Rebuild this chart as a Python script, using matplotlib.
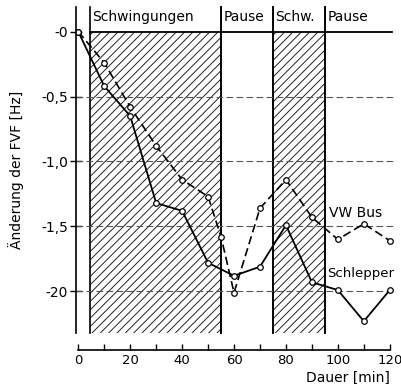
#!/usr/bin/env python3
"""Änderung der FVF over Dauer for VW Bus and Schlepper, with vibration/pause phases."""

import matplotlib
matplotlib.use("Agg")
import matplotlib.pyplot as plt

plt.rcParams["font.family"] = ["DejaVu Sans"]

# data
minutes = [0, 10, 20, 30, 40, 50, 55, 60, 70, 80, 90, 100, 110, 120]
vw_bus = [0.0, -0.24, -0.58, -0.88, -1.14, -1.27, -1.58, -2.01, -1.36, -1.14, -1.43, -1.60, -1.48, -1.61]

schlepper_min = [0, 10, 20, 30, 40, 50, 60, 70, 80, 90, 100, 110, 120]
schlepper = [0.0, -0.42, -0.65, -1.32, -1.38, -1.78, -1.88, -1.81, -1.49, -1.93, -1.99, -2.23, -1.99]

phases = [(4.5, 55, "Schwingungen", True), (55, 75, "Pause", False),
          (75, 95, "Schw.", True), (95, 121, "Pause", False)]

y_ticks = [0, -0.5, -1.0, -1.5, -2.0]
y_ticklabels = ["-0", "-0,5", "-1,0", "-1,5", "-20"]
x_ticks = [0, 20, 40, 60, 80, 100, 120]

FS = 10

fig = plt.figure(figsize=(4.01, 3.84), dpi=100)
ax = fig.add_axes([0.19, 0.133, 0.795, 0.849])
ax.set_xlim(-0.8, 122)
ax.set_ylim(-2.32, 0.19)

plt.rcParams["hatch.linewidth"] = 0.7
for x0, x1, name, shaded in phases:
    if shaded:
        ax.fill_between([x0, x1], -2.32, 0, facecolor="white", edgecolor="#222222",
                        hatch="////", linewidth=0)
    for xb in (x0, x1):
        if xb < 120:
            ax.plot([xb, xb], [-2.32, 0.19], color="black", lw=1.2, clip_on=False)
    ax.text(x0 + 1.0, 0.11, name, fontsize=FS, va="center", ha="left")

ax.plot([4.5, 121], [0, 0], color="black", lw=1.3)
for yv in [-0.5, -1.0, -1.5, -2.0]:
    ax.plot([-0.8, 122], [yv, yv], color="#555555", lw=0.8, ls=(0, (6, 3)))

ax.plot(minutes, vw_bus, color="black", lw=1.2, ls=(0, (5, 2.5)), marker="o",
        ms=4, mfc="white", mec="black", mew=0.9)
ax.plot(schlepper_min, schlepper, color="black", lw=1.3, marker="o",
        ms=4, mfc="white", mec="black", mew=0.9)

ax.text(96.5, -1.40, "VW Bus", fontsize=FS, va="center", ha="left")
ax.text(96.0, -1.86, "Schlepper", fontsize=9.5, va="center", ha="left")

ax.spines["top"].set_visible(False)
ax.spines["right"].set_visible(False)
ax.spines["bottom"].set_position(("outward", 12))
ax.spines["bottom"].set_bounds(0, 120)
ax.spines["left"].set_linewidth(1.2)
ax.spines["bottom"].set_linewidth(1.2)

ax.set_yticks(y_ticks)
ax.set_yticklabels(y_ticklabels, fontsize=FS)
ax.tick_params(axis="y", direction="inout", length=8, width=1.0, pad=2)
ax.set_xticks(x_ticks)
ax.set_xticks(range(10, 120, 20), minor=True)
ax.tick_params(axis="x", which="both", direction="in", length=4, width=1.0, labelsize=9.5, pad=3)

ax.set_ylabel("Änderung der FVF [Hz]", fontsize=FS, labelpad=12)
ax.text(120, -2.665, "Dauer [min]", fontsize=FS, ha="right", va="center")

fig.savefig("out.png", dpi=100)
